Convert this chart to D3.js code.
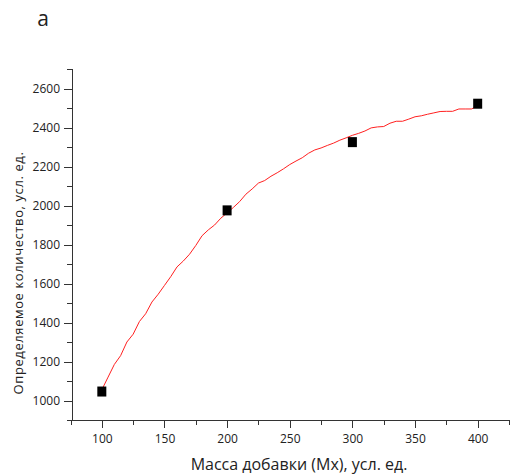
<!DOCTYPE html>
<html>
<head>
<meta charset="utf-8">
<script src="https://cdn.jsdelivr.net/npm/d3@7"></script>
<style>
  body { margin: 0; background: #fff; }
  text { font-family: "Open Sans", "Noto Sans", sans-serif; fill: #222; }
  .axis path, .axis line { stroke: #333; shape-rendering: crispEdges; }
</style>
</head>
<body>
<div id="chart"></div>
<script>
// measured points (mass of additive vs determined amount)
var pointX = [100, 200, 300, 400];
var pointY = [1046, 1975, 2325, 2522];

// fitted red curve
var curveX = [100, 105, 110, 115, 120, 125, 130, 135, 140, 145, 150, 155, 160, 165, 170, 175,
  180, 185, 190, 195, 200, 205, 210, 215, 220, 225, 230, 235, 240, 245, 250, 255, 260, 265,
  270, 275, 280, 285, 290, 295, 300, 305, 310, 315, 320, 325, 330, 335, 340, 345, 350, 355,
  360, 365, 370, 375, 380, 385, 390, 395, 400];
var curveY = [1055, 1120, 1185, 1230, 1300, 1340, 1405, 1445, 1505, 1545, 1590, 1635, 1685, 1715,
  1750, 1795, 1845, 1875, 1900, 1935, 1962, 1990, 2020, 2058, 2085, 2115, 2128, 2150, 2168,
  2188, 2210, 2228, 2245, 2268, 2285, 2295, 2308, 2320, 2335, 2347, 2360, 2370, 2382, 2398,
  2403, 2405, 2422, 2432, 2432, 2443, 2455, 2460, 2468, 2475, 2482, 2483, 2483, 2495, 2495,
  2495, 2510];

var xMajor = [100, 150, 200, 250, 300, 350, 400];
var xMinor = [75, 125, 175, 225, 275, 325, 375, 425];
var yMajor = [1000, 1200, 1400, 1600, 1800, 2000, 2200, 2400, 2600];
var yMinor = [1100, 1300, 1500, 1700, 1900, 2100, 2300, 2500, 2700];

var width = 510, height = 476;
var axisLeftX = 72, axisBottomY = 420;

var svg = d3.select("#chart").append("svg")
  .attr("width", width)
  .attr("height", height);

var x = d3.scaleLinear().domain([75, 425]).range([70.5, 509]);
var y = d3.scaleLinear().domain([900, 2700]).range([axisBottomY, 69]);

// x axis
svg.append("g")
  .attr("class", "axis")
  .attr("transform", "translate(0," + axisBottomY + ")")
  .call(d3.axisBottom(x).tickValues(xMinor).tickSize(5).tickFormat(""));
var xAx = svg.append("g")
  .attr("class", "axis")
  .attr("transform", "translate(0," + axisBottomY + ")")
  .call(d3.axisBottom(x).tickValues(xMajor).tickSize(8).tickPadding(6)
    .tickSizeOuter(0).tickFormat(d3.format("d")));
xAx.select(".domain").remove();
xAx.selectAll("text").style("font-size", "12px").attr("fill", "#222");

// y axis
svg.append("g")
  .attr("class", "axis")
  .attr("transform", "translate(" + axisLeftX + ",0)")
  .call(d3.axisLeft(y).tickValues(yMinor).tickSize(5).tickFormat(""));
var yAx = svg.append("g")
  .attr("class", "axis")
  .attr("transform", "translate(" + axisLeftX + ",0)")
  .call(d3.axisLeft(y).tickValues(yMajor).tickSize(8).tickPadding(4)
    .tickSizeOuter(0).tickFormat(d3.format("d")));
yAx.select(".domain").remove();
yAx.selectAll("text").style("font-size", "12px").attr("fill", "#222");

// red fitted line
var line = d3.line()
  .x(function(d, i) { return x(curveX[i]); })
  .y(function(d) { return y(d); });
svg.append("path")
  .datum(curveY)
  .attr("fill", "none")
  .attr("stroke", "#ff2020")
  .attr("stroke-width", 1)
  .attr("d", line);

// square markers
svg.selectAll("rect.pt")
  .data(pointY)
  .enter().append("rect")
  .attr("class", "pt")
  .attr("x", function(d, i) { return x(pointX[i]) - 4.5; })
  .attr("y", function(d) { return y(d) - 5; })
  .attr("width", 9)
  .attr("height", 10)
  .attr("fill", "#000");

// labels
svg.append("text")
  .attr("x", 299)
  .attr("y", 470)
  .attr("text-anchor", "middle")
  .style("font-size", "16px")
  .text("Масса добавки (Мх), усл. ед.");

svg.append("text")
  .attr("transform", "translate(23,273)rotate(-90)")
  .attr("text-anchor", "middle")
  .style("font-size", "13px")
  .style("letter-spacing", "0.6px")
  .text("Определяемое количество,  усл.  ед.");

svg.append("text")
  .attr("x", 43)
  .attr("y", 26)
  .attr("text-anchor", "middle")
  .style("font-size", "21px")
  .text("а");
</script>
</body>
</html>
